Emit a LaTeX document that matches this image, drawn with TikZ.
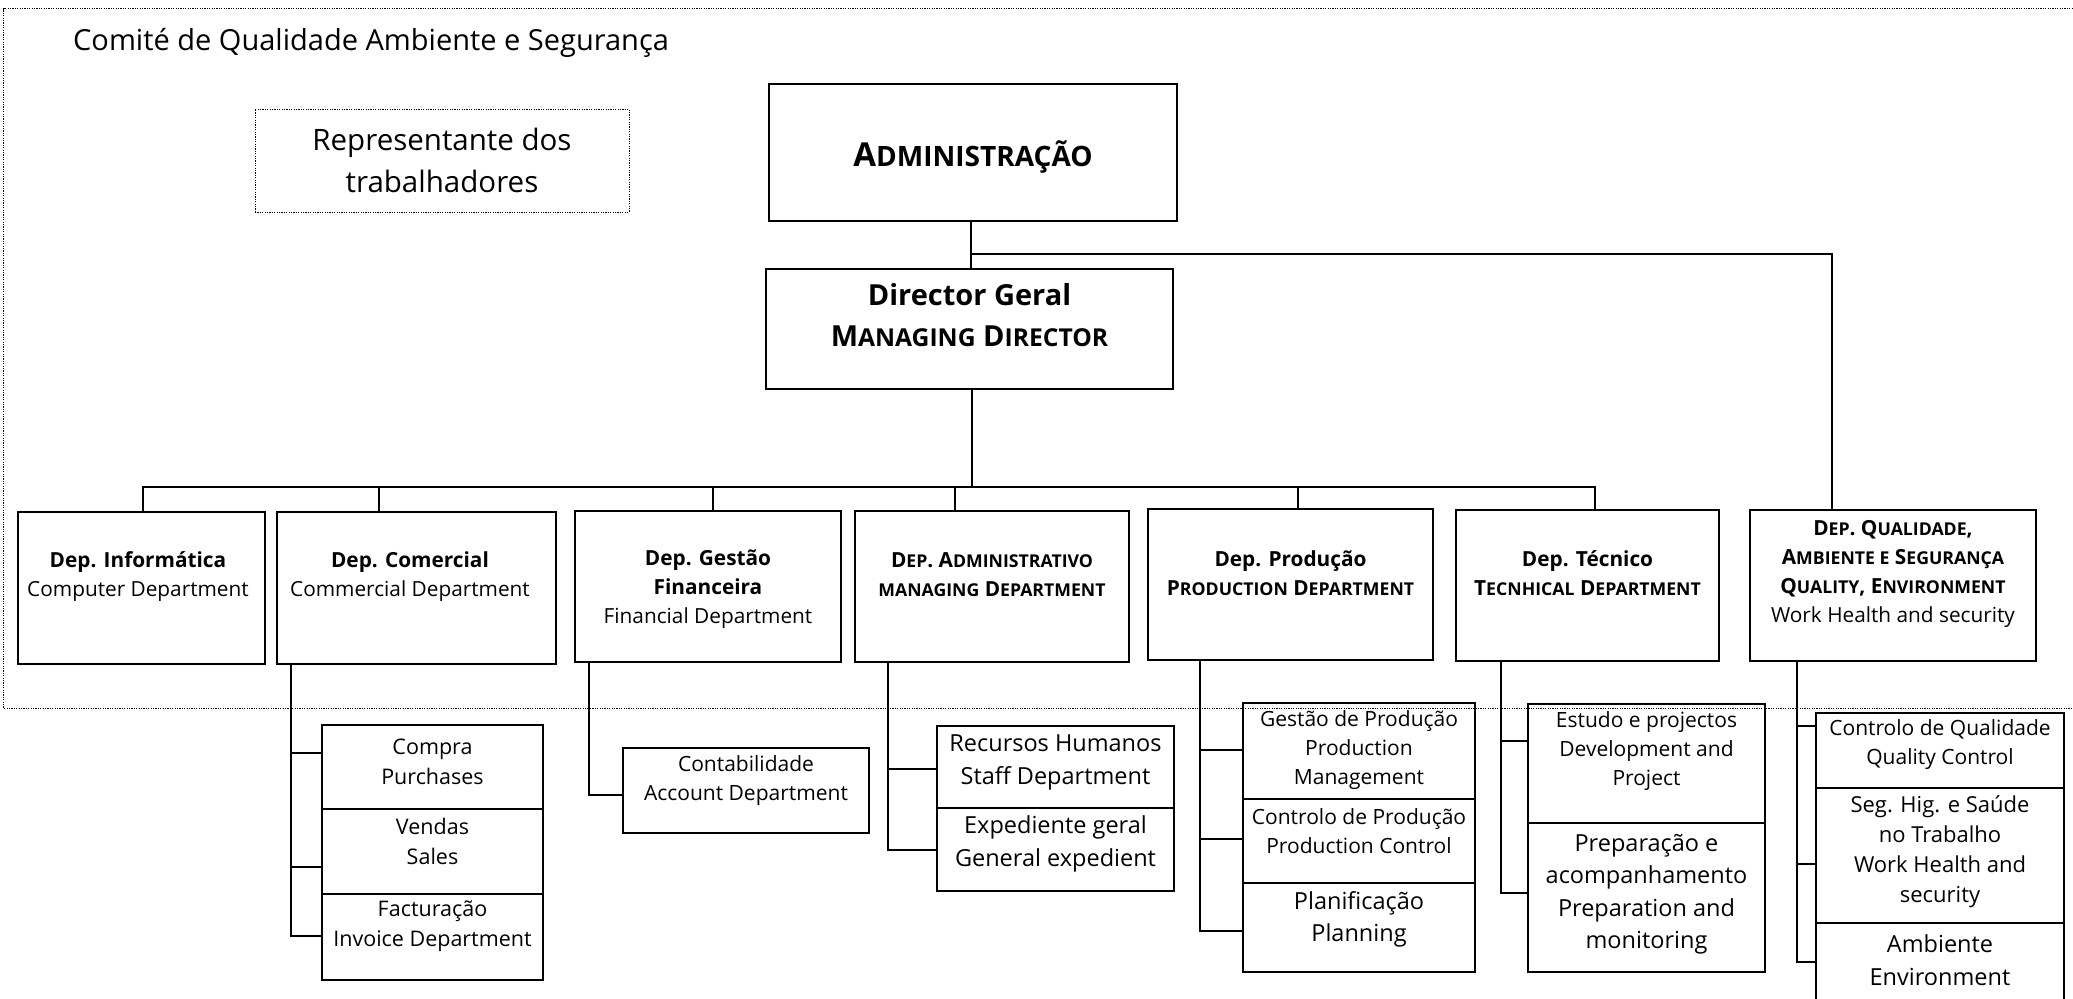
\documentclass[tikz,border=0pt]{standalone}
\usepackage{fontspec}
\setmainfont{Open Sans}
\makeatletter
\newcommand\fsc[1]{{\fontsize{\the\dimexpr 0.85\dimexpr\f@size pt\relax\relax}{0pt}\selectfont #1}}
\makeatother
\newcommand\szTitle{\fontsize{29}{35}\selectfont}
\newcommand\szRep{\fontsize{29.5}{42}\selectfont}
\newcommand\szAdm{\fontsize{33}{38}\selectfont\bfseries}
\newcommand\szDir{\fontsize{29}{41}\selectfont\bfseries}
\newcommand\szDep{\fontsize{20.8}{29}\selectfont}
\newcommand\szSubA{\fontsize{21.5}{30}\selectfont}
\newcommand\szSubB{\fontsize{21}{29}\selectfont}
\newcommand\szSubC{\fontsize{23.5}{32.5}\selectfont}
\newcommand\szSubD{\fontsize{22}{30}\selectfont}
\tikzset{
  box/.style={draw, line width=2.3pt, inner sep=0pt},
  dotbox/.style={draw, line width=1pt, dash pattern=on 1.2pt off 1.2pt, inner sep=0pt},
  frame/.style={line width=1pt, dash pattern=on 1.2pt off 1.2pt},
  conn/.style={line width=1.8pt},
  txt/.style={align=center, inner sep=0pt},
}
\begin{document}
\begin{tikzpicture}[x=1pt,y=-1pt]
\path[use as bounding box] (0,0) rectangle (2073,999);
\clip (0,0) rectangle (2073,999);
% frame
\draw[frame] (2080,8.5) -- (3.5,8.5) -- (3.5,708) -- (2080,708);
\node[txt, anchor=base west, font=\szTitle] (title) at (73,50) {Comité de Qualidade Ambiente e Segurança};
% top
\node[dotbox, minimum width=374pt, minimum height=103pt] (rep) at (442,160.5) {};
\node[txt, font=\szRep] (rep-t) at (442,160) {Representante dos\\trabalhadores};
\node[box, minimum width=408pt, minimum height=137pt] (adm) at (973,152.5) {};
\node[txt, font=\szAdm] (adm-t) at (973,157) {A\fsc{DMINISTRAÇÃO}};
\node[box, minimum width=407pt, minimum height=120pt] (dir) at (969.5,329) {};
\node[txt, font=\szDir] (dir-t) at (969.5,315.5) {Director Geral\\M\fsc{ANAGING} D\fsc{IRECTOR}};
% departments
\node[box, minimum width=247pt, minimum height=152pt] (inf) at (141.5,588) {};
\node[txt, font=\szDep] (inf-t) at (138,576.5) {\textbf{Dep. Informática}\\Computer Department};
\node[box, minimum width=279pt, minimum height=152pt] (com) at (416.5,588) {};
\node[txt, font=\szDep] (com-t) at (410,576.5) {\textbf{Dep. Comercial}\\Commercial Department};
\node[box, minimum width=266pt, minimum height=151pt] (ges) at (708,586.5) {};
\node[txt, font=\szDep] (ges-t) at (708,589.5) {\textbf{Dep. Gestão}\\\textbf{Financeira}\\Financial Department};
\node[box, minimum width=274pt, minimum height=151pt] (admd) at (992,586.5) {};
\node[txt, font=\szDep\bfseries] (admd-t) at (992,575) {D\fsc{EP}. A\fsc{DMINISTRATIVO}\\\fsc{MANAGING} D\fsc{EPARTMENT}};
\node[box, minimum width=285pt, minimum height=151pt] (prod) at (1290.5,584.5) {};
\node[txt, font=\szDep] (prod-t) at (1290.5,573) {\textbf{Dep. Produção}\\\textbf{P\fsc{RODUCTION} D\fsc{EPARTMENT}}};
\node[box, minimum width=263pt, minimum height=151pt] (tec) at (1587.5,585.5) {};
\node[txt, font=\szDep] (tec-t) at (1587.5,573.5) {\textbf{Dep. Técnico}\\\textbf{T\fsc{ECNHICAL} D\fsc{EPARTMENT}}};
\node[box, minimum width=286pt, minimum height=151pt] (qual) at (1893,585.5) {};
\node[txt, font=\szDep] (qual-t) at (1893,573.5) {\textbf{D\fsc{EP}. Q\fsc{UALIDADE},}\\\textbf{A\fsc{MBIENTE E} S\fsc{EGURANÇA}}\\\textbf{Q\fsc{UALITY}, E\fsc{NVIRONMENT}}\\Work Health and security};
% sub boxes
\node[box, minimum width=221pt, minimum height=84pt] (compra) at (432.5,767) {};
\node[txt, font=\szSubA] (compra-t) at (432.5,762) {Compra\\Purchases};
\node[box, minimum width=221pt, minimum height=85pt] (vendas) at (432.5,851.5) {};
\node[txt, font=\szSubA] (vendas-t) at (432.5,841.5) {Vendas\\Sales};
\node[box, minimum width=221pt, minimum height=86pt] (fact) at (432.5,937) {};
\node[txt, font=\szSubA] (fact-t) at (432.5,926) {Facturação\\Invoice Department};
\node[box, minimum width=246pt, minimum height=85pt] (cont) at (746,790.5) {};
\node[txt, font=\szSubB] (cont-t) at (746,781) {Contabilidade\\Account Department};
\node[box, minimum width=237pt, minimum height=82pt] (rh) at (1055.5,767) {};
\node[txt, font=\szSubC] (rh-t) at (1055.5,762.5) {Recursos Humanos\\Staff Department};
\node[box, minimum width=237pt, minimum height=83pt] (exp) at (1055.5,849.5) {};
\node[txt, font=\szSubC] (exp-t) at (1055.5,844) {Expediente geral\\General expedient};
\node[box, minimum width=232pt, minimum height=96pt] (gp) at (1359,751) {};
\node[txt, font=\szSubB] (gp-t) at (1359,750) {Gestão de Produção\\Production\\Management};
\node[box, minimum width=232pt, minimum height=84pt] (cp) at (1359,841) {};
\node[txt, font=\szSubB] (cp-t) at (1359,831.5) {Controlo de Produção\\Production Control};
\node[box, minimum width=232pt, minimum height=89pt] (pl) at (1359,927.5) {};
\node[txt, font=\szSubC] (pl-t) at (1359,919.5) {Planificação\\Planning};
\node[box, minimum width=237pt, minimum height=119pt] (est) at (1646.5,763.5) {};
\node[txt, font=\szSubB] (est-t) at (1646.5,751) {Estudo e projectos\\Development and\\Project};
\node[box, minimum width=237pt, minimum height=149pt] (prep) at (1646.5,897.5) {};
\node[txt, font=\szSubC] (prep-t) at (1646.5,894) {Preparação e\\acompanhamento\\Preparation and\\monitoring};
\node[box, minimum width=248pt, minimum height=75pt] (cq) at (1940,750.5) {};
\node[txt, font=\szSubB] (cq-t) at (1940,745) {Controlo de Qualidade\\Quality Control};
\node[box, minimum width=248pt, minimum height=135pt] (seg) at (1940,855.5) {};
\node[txt, font=\szSubD] (seg-t) at (1940,851.5) {Seg. Hig. e Saúde\\no Trabalho\\Work Health and\\security};
\node[box, minimum width=248pt, minimum height=100pt] (amb) at (1940,973) {};
\node[txt, font=\szSubC] (amb-t) at (1940,960) {Ambiente\\Environment};
% top connectors
\coordinate (j1) at (971,254);
\coordinate (bus) at (972,487);
\draw[conn] ([xshift=-2pt]adm.south) -- ([xshift=1.5pt]dir.north);
\draw[conn] (j1) -| ([xshift=-61pt]qual.north);
\draw[conn] ([xshift=2.5pt]dir.south) -- (bus);
\draw[conn] ([xshift=1.5pt]inf.north) |- (bus);
\draw[conn] ([xshift=-37.5pt]com.north) |- (bus);
\draw[conn] ([xshift=5pt]ges.north) |- (bus);
\draw[conn] ([xshift=-37pt]admd.north) |- (bus);
\draw[conn] ([xshift=7.5pt]prod.north) |- (bus);
\draw[conn] ([xshift=7.5pt]tec.north) |- (bus);
% sub connectors
\draw[conn] ([xshift=-125.5pt]com.south) |- ([yshift=14pt]compra.west);
\draw[conn] ([xshift=-125.5pt]com.south) |- ([yshift=-15.5pt]vendas.west);
\draw[conn] ([xshift=-125.5pt]com.south) |- ([yshift=1pt]fact.west);
\draw[conn] ([xshift=-119pt]ges.south) |- ([yshift=-4.5pt]cont.west);
\draw[conn] ([xshift=-104pt]admd.south) |- ([yshift=-2pt]rh.west);
\draw[conn] ([xshift=-104pt]admd.south) |- ([yshift=-0.5pt]exp.west);
\draw[conn] ([xshift=-90.5pt]prod.south) |- ([yshift=1pt]gp.west);
\draw[conn] ([xshift=-90.5pt]prod.south) |- ([yshift=2pt]cp.west);
\draw[conn] ([xshift=-90.5pt]prod.south) |- ([yshift=-3.5pt]pl.west);
\draw[conn] ([xshift=-86.5pt]tec.south) |- ([yshift=22.5pt]est.west);
\draw[conn] ([xshift=-86.5pt]tec.south) |- ([yshift=4.5pt]prep.west);
\draw[conn] ([xshift=-96pt]qual.south) |- ([yshift=24.5pt]cq.west);
\draw[conn] ([xshift=-96pt]qual.south) |- ([yshift=-8.5pt]seg.west);
\draw[conn] ([xshift=-96pt]qual.south) |- ([yshift=11pt]amb.west);
\end{tikzpicture}
\end{document}
